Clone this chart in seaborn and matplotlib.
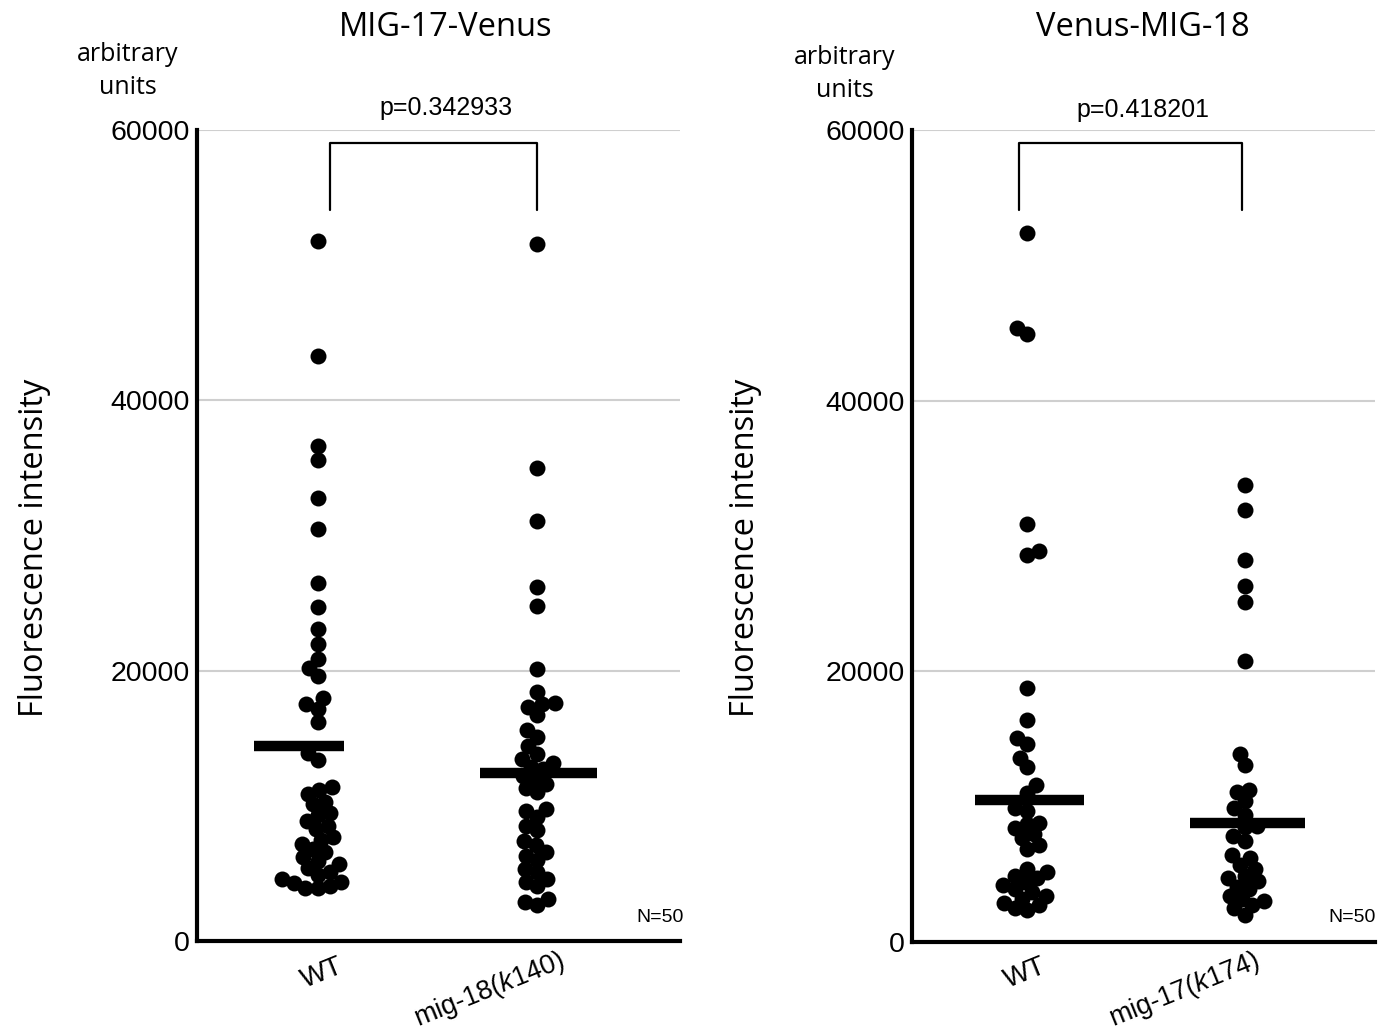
import numpy as np
import pandas as pd
import matplotlib
matplotlib.use("Agg")
import matplotlib.pyplot as plt
import seaborn as sns

# ---------------- data ----------------
panel_titles = ["MIG-17-Venus", "Venus-MIG-18"]
p_values = ["p=0.342933", "p=0.418201"]
n_labels = ["N=50", "N=50"]
left_groups = ["WT", "mig-18(k140)"]
right_groups = ["WT", "mig-17(k174)"]
y_ticks = [0, 20000, 40000, 60000]

left_wt = [51800, 43300, 36600, 35600, 32800, 30500, 26500, 24700, 23100, 22000,
           20900, 20200, 19600, 18000, 17500, 17200, 16200, 13900, 13400, 11400,
           11200, 10900, 10300, 10100, 9500, 9300, 8900, 8500, 8300, 7700,
           7500, 7200, 6800, 6600, 5900, 5700, 5400, 5100, 4900, 4600,
           4400, 4300, 4100, 3950, 3900, 6200]
left_mut = [51600, 35000, 31100, 26200, 24800, 20100, 18400, 17600, 17500, 17300,
            16700, 15600, 15100, 14400, 13800, 13500, 13200, 12900, 12700, 12200,
            12000, 11600, 11300, 11000, 9800, 9600, 9200, 8500, 8200, 7400,
            7100, 6600, 6300, 6000, 5300, 5100, 4600, 4400, 4100, 3100,
            2900, 2700]
right_wt = [52400, 45400, 44900, 30900, 28900, 28600, 18800, 16400, 15100, 14600,
            13600, 12900, 11600, 11000, 9900, 9700, 8800, 8700, 8400, 8000,
            7700, 7200, 6900, 5400, 5200, 4900, 4700, 4400, 4200, 3900,
            3700, 3400, 3200, 2900, 2700, 2500, 2400]
right_mut = [33800, 31900, 28200, 26300, 25100, 20800, 13900, 13100, 11200, 11100,
             10400, 9900, 9400, 8600, 8500, 7800, 7500, 6400, 6200, 5700,
             5400, 4900, 4700, 4500, 4100, 3900, 3400, 3200, 2700, 2500,
             2000, 3000]
left_centers = [14400, 12400]
right_centers = [10500, 8800]

# ---------------- style ----------------
sns.set_theme(style="white")
plt.rcParams["font.family"] = ["Liberation Sans", "DejaVu Sans"]
plt.rcParams["text.color"] = "black"
plt.rcParams["xtick.color"] = "black"
plt.rcParams["ytick.color"] = "black"
plt.rcParams["axes.labelcolor"] = "black"
plt.rcParams["mathtext.fontset"] = "custom"
plt.rcParams["mathtext.rm"] = "Liberation Sans"
plt.rcParams["mathtext.it"] = "Liberation Sans:italic"

W, H = 1379, 1035
fig = plt.figure(figsize=(W / 100, H / 100), dpi=100)
fig.patch.set_facecolor("white")

ax1 = fig.add_axes([197 / W, 1 - 941 / H, (680 - 197) / W, (941 - 130) / H])
ax2 = fig.add_axes([912 / W, 1 - 942 / H, (1375 - 912) / W, (942 - 130) / H])

panels = [
    dict(ax=ax1, groups=left_groups, vals=[left_wt, left_mut], centers=left_centers,
         xlim=(-0.55, 1.65), bars=[(-0.29, 0.12), (-0.26, 0.27)],
         bracket=(0.055, 1.0)),
    dict(ax=ax2, groups=right_groups, vals=[right_wt, right_mut], centers=right_centers,
         xlim=(-0.53, 1.60), bars=[(-0.24, 0.26), (-0.25, 0.28)],
         bracket=(-0.04, 0.99)),
]

LAYOUT_SIZE = 8.5   # marker size used to arrange the swarm (allows overlap)
DRAW_SIZE = 11.5    # marker size actually drawn

for i, P in enumerate(panels):
    ax = P["ax"]
    groups = P["groups"]
    df = pd.DataFrame({
        "group": [groups[0]] * len(P["vals"][0]) + [groups[1]] * len(P["vals"][1]),
        "value": list(P["vals"][0]) + list(P["vals"][1]),
    })
    sns.swarmplot(data=df, x="group", y="value", order=groups, color="black",
                  size=LAYOUT_SIZE, linewidth=0, ax=ax, zorder=3, warn_thresh=1)
    for j, c in enumerate(P["centers"]):
        lo, hi = P["bars"][j]
        ax.hlines(c, j + lo, j + hi, color="black", lw=7.5, zorder=4)
    b0, b1 = P["bracket"]
    ax.plot([b0, b0, b1, b1], [54100, 59050, 59050, 54100], color="black",
            lw=1.6, zorder=5, clip_on=False)
    ax.set_xlim(*P["xlim"])
    ax.set_ylim(0, 60000)
    ax.set_yticks(y_ticks)
    ax.set_yticklabels([str(t) for t in y_ticks], fontsize=20.5, color="black")
    ax.set_xticks([0, 1])
    ax.set_xticklabels([])
    ax.tick_params(axis="both", length=0, pad=5)
    ax.set_xlabel("")
    ax.set_ylabel("")
    ax.yaxis.grid(True, color="#cfcfcf", lw=1.5)
    ax.xaxis.grid(False)
    ax.set_axisbelow(True)
    for s in ["top", "right"]:
        ax.spines[s].set_visible(False)
    for s in ["left", "bottom"]:
        ax.spines[s].set_color("black")
        ax.spines[s].set_linewidth(3)

# compute the swarm layout once, then freeze it and enlarge the markers
fig.canvas.draw()
for ax in (ax1, ax2):
    for coll in ax.collections:
        if "draw" in coll.__dict__:
            del coll.draw
            coll.set_sizes([DRAW_SIZE ** 2])

title_font = ["Open Sans", "DejaVu Sans"]

# titles
fig.text(446 / W, 1 - 27 / H, panel_titles[0], ha="center", va="center",
         fontsize=23.5, family=title_font)
fig.text(1143 / W, 1 - 28 / H, panel_titles[1], ha="center", va="center",
         fontsize=23.5, family=title_font)
# arbitrary units
fig.text(128 / W, 1 - 71 / H, "arbitrary\nunits", ha="center", va="center",
         fontsize=18, family=title_font, linespacing=1.45)
fig.text(845 / W, 1 - 74 / H, "arbitrary\nunits", ha="center", va="center",
         fontsize=18, family=title_font, linespacing=1.45)
# y labels
fig.text(35 / W, 1 - 548 / H, "Fluorescence intensity", ha="center", va="center",
         rotation=90, fontsize=23.5, family=title_font)
fig.text(745 / W, 1 - 548 / H, "Fluorescence intensity", ha="center", va="center",
         rotation=90, fontsize=23.5, family=title_font)
# p values
fig.text(446 / W, 1 - 108 / H, p_values[0], ha="center", va="center", fontsize=18)
fig.text(1143 / W, 1 - 110 / H, p_values[1], ha="center", va="center", fontsize=18)
# N labels
fig.text(684 / W, 1 - 918 / H, n_labels[0], ha="right", va="center", fontsize=14)
fig.text(1376 / W, 1 - 918 / H, n_labels[1], ha="right", va="center", fontsize=14)

# x category labels
def mut_label(s):
    name, allele = s.split("(")
    return name + "($\\mathit{" + allele.rstrip(")") + "}$)"

fig.text(322 / W, 1 - 973 / H, left_groups[0], ha="center", va="center",
         rotation=22, fontsize=20)
fig.text(490 / W, 1 - 990 / H, mut_label(left_groups[1]), ha="center", va="center",
         rotation=22, fontsize=19.5)
fig.text(1025 / W, 1 - 973 / H, right_groups[0], ha="center", va="center",
         rotation=22, fontsize=20)
fig.text(1185 / W, 1 - 990 / H, mut_label(right_groups[1]), ha="center", va="center",
         rotation=22, fontsize=19.5)

fig.savefig("out.png", dpi=100, facecolor="white")
